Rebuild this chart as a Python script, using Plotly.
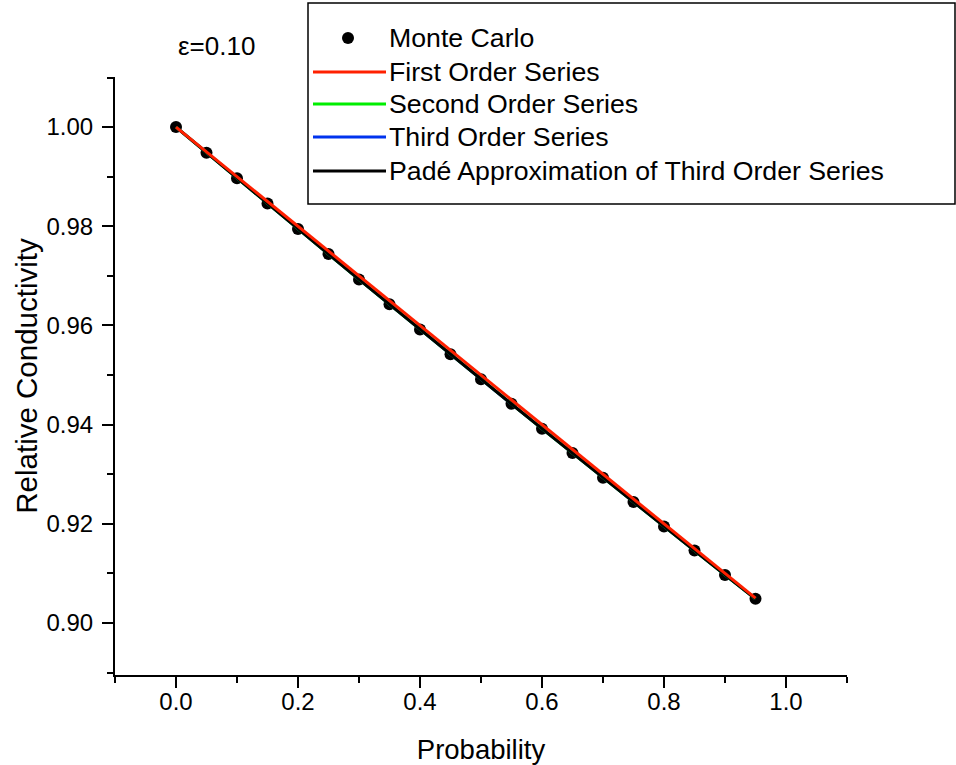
import plotly.graph_objects as go

# Volume fraction (probability) of the second phase
probability = [0.00, 0.05, 0.10, 0.15, 0.20, 0.25, 0.30, 0.35, 0.40, 0.45,
               0.50, 0.55, 0.60, 0.65, 0.70, 0.75, 0.80, 0.85, 0.90, 0.95]

# Relative conductivity for contrast eps = 0.10
monte_carlo = [1.0000, 0.99483, 0.98968, 0.98459, 0.97945, 0.97440, 0.96928, 0.96425, 0.95918, 0.95420,
               0.94915, 0.94419, 0.93918, 0.93426, 0.92928, 0.92440, 0.91945, 0.91460, 0.90968, 0.90486]
first_order = [1.0000, 0.9950, 0.9900, 0.9850, 0.9800, 0.9750, 0.9700, 0.9650, 0.9600, 0.9550,
               0.9500, 0.9450, 0.9400, 0.9350, 0.9300, 0.9250, 0.9200, 0.9150, 0.9100, 0.9050]
second_order = [1.0000, 0.99484, 0.98970, 0.98458, 0.97947, 0.97438, 0.96930, 0.96424, 0.95920, 0.95418,
                0.94917, 0.94418, 0.93920, 0.93424, 0.92930, 0.92438, 0.91947, 0.91458, 0.90970, 0.90484]
third_order = [1.0000, 0.99484, 0.98969, 0.98457, 0.97946, 0.97437, 0.96929, 0.96423, 0.95919, 0.95417,
               0.94916, 0.94417, 0.93919, 0.93423, 0.92929, 0.92437, 0.91946, 0.91457, 0.90969, 0.90484]
pade_third = [1.0000, 0.99484, 0.98969, 0.98457, 0.97946, 0.97436, 0.96928, 0.96422, 0.95918, 0.95416,
              0.94915, 0.94416, 0.93918, 0.93422, 0.92928, 0.92436, 0.91946, 0.91457, 0.90969, 0.90484]

series_names = ["Monte Carlo", "First Order Series", "Second Order Series",
                "Third Order Series", "Padé Approximation of Third Order Series"]
series_colors = ["#000000", "#ff2000", "#00ee00", "#0033ee", "#000000"]

x_ticks = [0.0, 0.2, 0.4, 0.6, 0.8, 1.0]
y_ticks = [0.90, 0.92, 0.94, 0.96, 0.98, 1.00]

FONT = "Arial, Liberation Sans, sans-serif"

fig = go.Figure()

fig.add_trace(go.Scatter(x=probability, y=monte_carlo, mode="markers", name=series_names[0],
                         marker=dict(color=series_colors[0], size=12)))
fig.add_trace(go.Scatter(x=probability, y=third_order, mode="lines", name=series_names[3],
                         line=dict(color=series_colors[3], width=3)))
fig.add_trace(go.Scatter(x=probability, y=second_order, mode="lines", name=series_names[2],
                         line=dict(color=series_colors[2], width=3)))
fig.add_trace(go.Scatter(x=probability, y=pade_third, mode="lines", name=series_names[4],
                         line=dict(color=series_colors[4], width=3)))
fig.add_trace(go.Scatter(x=probability, y=first_order, mode="lines", name=series_names[1],
                         line=dict(color=series_colors[1], width=3)))

# plot area in pixels
L, R, T, B = 115, 847, 77, 675
W, H = 956, 765


def px_x(px):
    return (px - L) / (R - L)


def px_y(py):
    return (B - py) / (B - T)


shapes = []
annotations = []

# legend frame
shapes.append(dict(type="rect", xref="paper", yref="paper",
                   x0=px_x(308), x1=px_x(955), y0=px_y(204), y1=px_y(3),
                   line=dict(color="black", width=1.5), fillcolor="white", layer="above"))

row_y = [38, 72, 104, 137, 171]
for i, name in enumerate(series_names):
    yy = px_y(row_y[i])
    if i == 0:
        shapes.append(dict(type="circle", xref="paper", yref="paper",
                           x0=px_x(348 - 6), x1=px_x(348 + 6), y0=yy - 6 / (B - T), y1=yy + 6 / (B - T),
                           fillcolor=series_colors[i], line=dict(width=0), layer="above"))
    else:
        shapes.append(dict(type="line", xref="paper", yref="paper",
                           x0=px_x(313), x1=px_x(386), y0=yy, y1=yy,
                           line=dict(color=series_colors[i], width=3), layer="above"))
    annotations.append(dict(text=name, xref="paper", yref="paper", x=px_x(387), y=yy,
                            xanchor="left", yanchor="middle", showarrow=False,
                            font=dict(family=FONT, size=26.7, color="black")))

annotations.append(dict(text="ε=0.10", xref="paper", yref="paper", x=px_x(216), y=px_y(46),
                        xanchor="center", yanchor="middle", showarrow=False,
                        font=dict(family=FONT, size=26, color="black")))

fig.update_layout(
    width=W, height=H,
    margin=dict(l=L, r=W - R, t=T, b=H - B),
    plot_bgcolor="white", paper_bgcolor="white",
    showlegend=False,
    shapes=shapes, annotations=annotations,
    font=dict(family=FONT, color="black"),
)

fig.update_xaxes(
    range=[-0.1, 1.1], tickvals=x_ticks, ticktext=[f"{v:.1f}" for v in x_ticks],
    showline=True, linecolor="black", linewidth=2, mirror=False,
    ticks="outside", ticklen=11, tickwidth=2, tickcolor="black",
    minor=dict(dtick=0.1, tick0=0, ticks="outside", ticklen=6, tickwidth=2, tickcolor="black"),
    showgrid=False, zeroline=False, automargin=False,
    tickfont=dict(family=FONT, size=24), ticklabelstandoff=-7,
    title=dict(text="Probability", font=dict(family=FONT, size=27.5), standoff=33),
)
fig.update_yaxes(
    range=[0.8895, 1.0101], tickvals=y_ticks, ticktext=[f"{v:.2f}" for v in y_ticks],
    showline=True, linecolor="black", linewidth=2, mirror=False,
    ticks="outside", ticklen=11, tickwidth=2, tickcolor="black",
    minor=dict(dtick=0.01, tick0=0.9, ticks="outside", ticklen=6, tickwidth=2, tickcolor="black"),
    showgrid=False, zeroline=False, automargin=False,
    tickfont=dict(family=FONT, size=24), ticklabelstandoff=4,
    title=dict(text="Relative Conductivity", font=dict(family=FONT, size=29.5), standoff=0),
)

fig.write_html("out.html")
